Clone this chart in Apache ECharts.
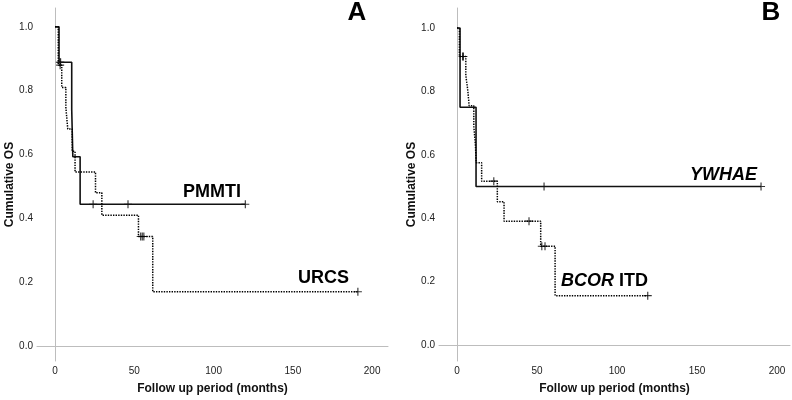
<!DOCTYPE html>
<html>
<head>
<meta charset="utf-8">
<script src="https://cdn.jsdelivr.net/npm/echarts@6/dist/echarts.min.js"></script>
<style>
html,body{margin:0;padding:0;background:#fff;}
#chart{width:792px;height:400px;}
</style>
</head>
<body>
<div id="chart"></div>
<script>
// ---- Data ----
const xTicks = [0, 50, 100, 150, 200];
const yTicks = [0, 0.2, 0.4, 0.6, 0.8, 1.0];

// Panel A
const pmmtiTime = [0, 2.5, 10.5, 11.2, 15.8, 120];
const pmmtiSurv = [1.0, 0.889, 0.741, 0.593, 0.444, 0.444];
const pmmtiCensorTime = [3.0, 3.5, 24, 46, 120];
const pmmtiCensorSurv = [0.889, 0.889, 0.444, 0.444, 0.444];

const urcsTime = [0, 2.0, 4.2, 6.8, 8.0, 10.8, 12.6, 25.5, 29.5, 52.6, 61.6, 191];
const urcsSurv = [1.0, 0.88, 0.81, 0.747, 0.68, 0.61, 0.545, 0.48, 0.41, 0.343, 0.17, 0.17];
const urcsCensorTime = [3.2, 54, 55, 56, 191];
const urcsCensorSurv = [0.88, 0.343, 0.343, 0.343, 0.17];

// Panel B
const ywhaeTime = [0, 1.9, 11.9, 190];
const ywhaeSurv = [1.0, 0.75, 0.5, 0.5];
const ywhaeCensorTime = [54.4, 190];
const ywhaeCensorSurv = [0.5, 0.5];

const bcorTime = [0, 1.5, 5.5, 6.7, 7.6, 10.5, 11.5, 12.0, 15.4, 25.2, 29.4, 52.3, 61.3, 119.2];
const bcorSurv = [1.0, 0.91, 0.85, 0.805, 0.755, 0.69, 0.632, 0.575, 0.517, 0.452, 0.391, 0.312, 0.156, 0.156];
const bcorCensorTime = [3.5, 4.0, 23, 45, 53, 55, 119.2];
const bcorCensorSurv = [0.91, 0.91, 0.517, 0.391, 0.312, 0.312, 0.156];

const zip = (a, b) => a.map((v, i) => [v, b[i]]);

const FONT = '"Liberation Sans", Arial, sans-serif';
const plusPath = 'path://M0,4.3 H10 V5.7 H0 Z M4.3,0 H5.7 V10 H4.3 Z';

function xAxisCfg(gridIndex, min, max) {
  return {
    gridIndex, type: 'value', min, max,
    axisLine: {show: true, lineStyle: {color: '#bdbdbd', width: 1}},
    axisTick: {show: false},
    splitLine: {show: false},
    axisLabel: {customValues: xTicks, margin: 5, color: '#222', fontSize: 10, fontFamily: FONT},
    name: 'Follow up period (months)', nameLocation: 'middle', nameGap: 22,
    nameTextStyle: {color: '#111', fontSize: 12, fontWeight: 'bold', fontFamily: FONT}
  };
}
function yAxisCfg(gridIndex, min, max) {
  return {
    gridIndex, type: 'value', min, max,
    axisLine: {show: true, lineStyle: {color: '#bdbdbd', width: 1}},
    axisTick: {show: false},
    splitLine: {show: false},
    axisLabel: {customValues: yTicks, margin: 4, color: '#222', fontSize: 10, fontFamily: FONT,
      formatter: v => v.toFixed(1)},
    name: 'Cumulative OS', nameLocation: 'middle', nameGap: 21, nameRotate: 90,
    nameTextStyle: {color: '#111', fontSize: 12, fontWeight: 'bold', fontFamily: FONT}
  };
}
function km(idx, t, s, dotted) {
  return {
    type: 'line', xAxisIndex: idx, yAxisIndex: idx, step: 'end',
    data: zip(t, s), symbol: 'none', silent: true,
    lineStyle: dotted ? {color: '#000', width: 1.5, type: [1.4, 1.2]} : {color: '#111', width: 1.6}
  };
}
function censor(idx, t, s) {
  return {
    type: 'scatter', xAxisIndex: idx, yAxisIndex: idx, data: zip(t, s),
    symbol: plusPath, symbolSize: 8, itemStyle: {color: '#000'}, silent: true
  };
}

const chart = echarts.init(document.getElementById('chart'), null, {renderer: 'canvas'});
chart.setOption({
  animation: false,
  backgroundColor: '#fff',
  textStyle: {fontFamily: FONT},
  grid: [
    {left: 37, top: 8, width: 351, height: 354},
    {left: 439, top: 8, width: 351, height: 354}
  ],
  xAxis: [xAxisCfg(0, -11.4, 210), xAxisCfg(1, -11.25, 208.1)],
  yAxis: [yAxisCfg(0, -0.047, 1.059), yAxisCfg(1, -0.05, 1.063)],
  series: [
    km(0, pmmtiTime, pmmtiSurv, false),
    km(0, urcsTime, urcsSurv, true),
    censor(0, pmmtiCensorTime, pmmtiCensorSurv),
    censor(0, urcsCensorTime, urcsCensorSurv),
    km(1, ywhaeTime, ywhaeSurv, false),
    km(1, bcorTime, bcorSurv, true),
    censor(1, ywhaeCensorTime, ywhaeCensorSurv),
    censor(1, bcorCensorTime, bcorCensorSurv)
  ],
  graphic: [
    {type: 'text', x: 357, y: 13, style: {text: 'A', font: 'bold 26px ' + FONT, fill: '#000', align: 'center', verticalAlign: 'middle'}},
    {type: 'text', x: 771, y: 13, style: {text: 'B', font: 'bold 26px ' + FONT, fill: '#000', align: 'center', verticalAlign: 'middle'}},
    {type: 'text', x: 241, y: 192, style: {text: 'PMMTI', font: 'bold 18px ' + FONT, fill: '#000', align: 'right', verticalAlign: 'middle'}},
    {type: 'text', x: 349, y: 278, style: {text: 'URCS', font: 'bold 18px ' + FONT, fill: '#000', align: 'right', verticalAlign: 'middle'}},
    {type: 'text', x: 757, y: 175, style: {text: 'YWHAE', font: 'italic bold 18px ' + FONT, fill: '#000', align: 'right', verticalAlign: 'middle'}},
    {type: 'text', x: 561, y: 281, style: {text: '{i|BCOR} ITD', font: 'bold 18px ' + FONT, fill: '#000', align: 'left', verticalAlign: 'middle',
      rich: {i: {fontStyle: 'italic', fontWeight: 'bold', fontSize: 18, fontFamily: FONT, fill: '#000'}}}}
  ]
});
</script>
</body>
</html>
